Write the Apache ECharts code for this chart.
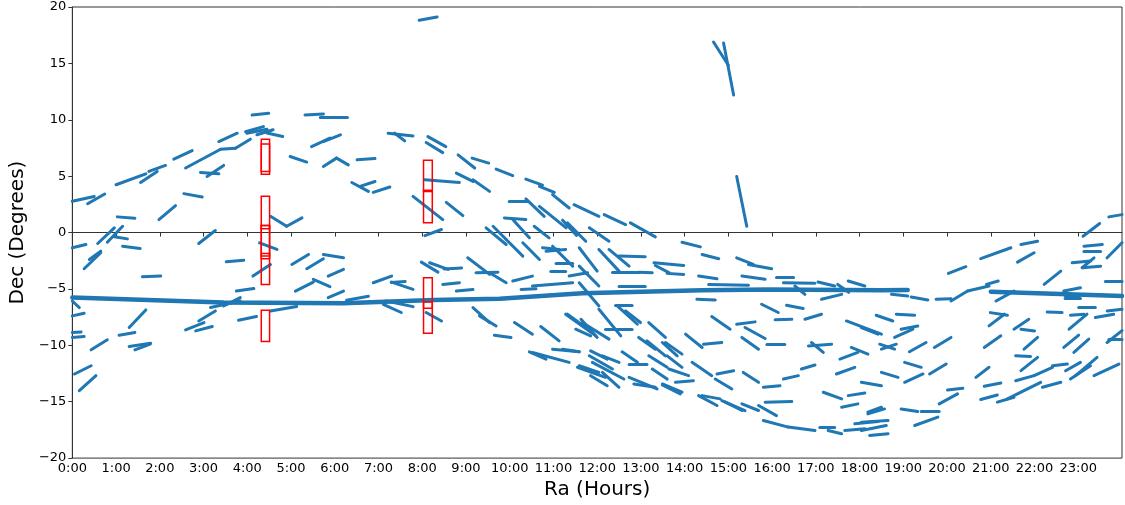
<!DOCTYPE html>
<html>
<head>
<meta charset="utf-8">
<script src="https://cdn.jsdelivr.net/npm/echarts@6/dist/echarts.min.js"></script>
<style>
html,body{margin:0;padding:0;background:#fff;}
#chart{width:1125px;height:505px;}
</style>
</head>
<body>
<div id="chart"></div>
<script>
// Tick labels
var raTickLabels = ['0:00','1:00','2:00','3:00','4:00','5:00','6:00','7:00','8:00','9:00','10:00','11:00','12:00','13:00','14:00','15:00','16:00','17:00','18:00','19:00','20:00','21:00','22:00','23:00'];
var decTicks = [-20,-15,-10,-5,0,5,10,15,20];

// Track segments: [ra1 (h), dec1 (deg), ra2 (h), dec2 (deg)]
var tracksNorthWest = [
[0,2.77,0.5,3.2],[0.35,2.56,0.74,3.42],[1.0,4.24,1.68,5.21],[1.56,4.44,1.94,5.42],[1.75,5.42,2.13,5.95],
[2.32,6.51,2.74,7.27],[2.59,5.72,3.39,7.39],[3.39,7.39,3.73,7.48],[3.73,7.48,4.07,8.28],[3.35,8.07,3.77,8.81],
[3.96,8.95,4.37,9.39],[3.99,8.81,4.45,9.16],[4.11,10.42,4.49,10.57],[4.45,8.82,4.81,8.52],[4.22,8.67,4.59,9.12],
[2.93,5.33,3.35,5.21],[3.08,4.97,3.46,5.95],[2.55,3.45,2.97,3.15],[1.98,1.15,2.36,2.39],[1.03,1.39,1.43,1.26],
[0.58,-0.97,0.96,0.42],[0.8,-0.86,1.15,0.56],[0.96,-0.38,1.26,-0.56],[1.15,-1.21,1.55,-1.41],[0,-1.35,0.31,-1.06],
[0.39,-2.39,0.65,-1.65],[2.89,-0.97,3.27,0.18],[4.53,1.44,4.9,0.56],[4.9,0.56,5.25,1.3],[4.98,6.74,5.36,6.25],
[5.32,10.42,5.74,10.51],[5.67,10.22,6.29,10.19],[5.47,7.62,5.89,8.37],[5.74,8.07,6.13,8.66],[5.74,5.86,6.04,6.6],
[6.04,6.6,6.31,6.0]
];
var tracksNorthCentral = [
[7.93,18.82,8.34,19.11],[6.51,6.45,6.92,6.56],[7.22,8.81,7.79,8.57],[7.37,8.81,7.6,8.13],[8.13,8.51,8.54,7.62],
[8.09,7.98,8.47,7.09],[6.39,4.44,6.77,3.65],[6.58,4.09,6.92,4.53],[6.88,3.56,7.26,4.04],[8.82,6.89,9.2,5.72],
[9.14,6.6,9.52,6.16],[9.69,5.63,10.07,5.04],[10.37,4.74,10.75,4.2],[10.68,4.09,11.02,3.56],[10.98,3.36,11.36,2.18],
[11.47,2.47,12.04,1.44],[12.16,1.59,12.65,0.71],[12.76,0.86,13.33,-0.38],[9.99,2.77,10.41,2.77],[10.37,2.98,10.79,1.44],
[10.68,2.32,11.29,0.42],[9.88,1.3,10.37,1.15],[10.07,1.15,10.45,-0.47],[10.56,0.56,10.9,-0.47],[11.21,1.1,11.53,-0.25],
[11.32,0.86,11.74,-0.77],[11.82,0.42,12.27,-0.77],[9.46,0.42,9.92,-1.06],[9.62,0.56,9.92,-0.62],[9.92,-0.62,10.3,-2.09],
[10.3,-0.91,10.68,-2.39],[10.75,-1.35,11.13,-1.5],[10.98,-1.21,11.44,-2.98],[11.06,-2.68,11.44,-2.68],[11.59,-1.35,12.0,-3.42],
[12.04,-1.5,12.5,-3.42],[12.27,-1.5,12.73,-2.98],[12.5,-2.09,13.1,-2.15],[12.35,-3.56,12.95,-3.56],[11.36,-3.86,11.78,-3.56],
[11.59,-2.98,12.04,-4.74],[12.5,-4.74,13.1,-4.74],[7.79,3.21,8.47,1.15],[8.55,2.68,8.93,1.5],[8.06,4.68,8.85,4.44],
[8.78,5.27,9.16,4.53],[9.16,4.68,9.54,3.65],[8.06,-0.27,8.44,0.27],[14.66,16.9,15.0,14.84],[14.89,16.81,15.12,12.19],
[15.19,4.97,15.42,0.56],[23.7,1.39,24,1.59],[23.11,-0.33,23.49,0.8]
];
var tracksEquatorWest = [
[0.27,-3.21,0.65,-1.79],[1.6,-3.92,2.02,-3.86],[3.52,-2.59,3.92,-2.45],[4.28,-0.91,4.68,-1.5],[4.13,-3.86,4.53,-2.83],
[3.75,-5.19,4.15,-4.97],[5.02,-2.83,5.4,-1.94],[5.36,-3.21,5.74,-2.32],[5.74,-1.94,6.2,-2.24],[5.85,-3.86,6.2,-3.27],
[5.1,-5.19,5.51,-4.39],[5.51,-4.15,5.89,-4.8],[5.85,-5.77,6.2,-5.19],[3.16,-6.65,3.84,-6.07],[3.46,-6.51,3.84,-5.77],
[2.89,-7.84,3.27,-6.95],[2.59,-8.63,3.01,-7.98],[2.82,-8.72,3.2,-8.33],[3.8,-7.77,4.21,-7.45],[4.53,-6.95,5.13,-6.56],
[1.3,-8.42,1.68,-6.86],[1.07,-9.1,1.43,-8.86],[1.3,-10.1,1.79,-9.81],[1.43,-10.4,1.78,-9.9],[0.43,-10.4,0.8,-9.51],
[0,-8.86,0.2,-8.81],[0,-9.3,0.27,-9.21],[0,-7.39,0.27,-7.16],[0.05,-12.54,0.43,-11.81],[0.16,-14.02,0.54,-12.69],
[0,-6.07,0.16,-6.65],
[6.88,-4.45,7.3,-3.86],[7.29,-4.42,7.61,-4.33],[7.3,-4.39,7.79,-5.04],[7.98,-2.62,8.36,-3.51],[8.17,-2.68,8.59,-3.27],
[8.5,-3.23,8.9,-3.14],[9.04,-2.24,9.54,-3.71],[9.54,-3.56,9.92,-4.45],[9.23,-3.56,9.73,-3.51],[10.07,-4.3,10.52,-3.86],
[10.83,-1.65,11.28,-1.5],[10.94,-3.42,11.28,-3.42],[10.26,-5.04,10.6,-4.98],[10.52,-4.74,11.44,-4.45],[8.78,-5.19,9.16,-5.04],
[8.47,-4.6,8.85,-4.45],[7.11,-6.36,7.52,-7.09],[7.18,-6.07,7.79,-6.57],[6.27,-6.0,6.77,-5.64],[8.09,-7.09,8.44,-7.84],
[9.16,-6.65,9.54,-7.98],[9.31,-7.39,9.69,-8.28],[9.65,-9.1,10.03,-9.3],[10.11,-7.98,10.52,-9.01],[10.71,-8.33,11.13,-9.6],
[10.45,-10.57,10.83,-11.22],[10.52,-10.63,11.36,-11.51],[10.98,-10.34,11.59,-10.57],[11.59,-11.81,12.04,-12.4],[11.82,-10.93,12.35,-12.1],
[11.28,-7.24,11.97,-9.16],[11.59,-4.45,12.04,-6.51],[11.66,-7.98,12.27,-9.45],[11.21,-10.34,11.59,-10.57]
];
var tracksSouthCentral = [
[13.94,-0.86,14.36,-1.27],[14.4,-1.94,14.78,-2.32],[15.19,-2.24,15.57,-2.83],[15.46,-2.83,15.99,-3.21],[13.3,-2.68,13.98,-2.92],
[13.33,-2.92,13.64,-3.56],[12.95,-3.51,13.26,-3.56],[13.6,-3.62,13.98,-3.71],[14.32,-3.86,14.74,-4.09],[15.31,-3.86,15.84,-4.15],
[16.1,-4.0,16.49,-4.0],[14.55,-4.6,15.46,-4.68],[16.26,-4.45,16.98,-4.5],[17.05,-4.39,17.43,-4.74],[17.74,-4.3,18.12,-4.74],
[17.13,-5.92,17.59,-5.48],[14.28,-5.92,14.7,-5.98],[15.76,-6.36,16.14,-7.09],[16.33,-6.45,16.71,-6.74],[16.07,-7.74,16.45,-7.69],
[16.75,-7.69,17.13,-7.24],[15.19,-8.13,15.61,-7.92],[14.62,-7.45,15.04,-8.57],[15.38,-8.42,15.84,-9.39],[15.31,-9.3,15.69,-10.34],
[15.88,-9.9,16.29,-9.9],[14.43,-9.9,14.85,-9.75],[14.02,-9.01,14.4,-10.19],[13.18,-7.98,13.56,-9.3],[13.56,-9.75,13.94,-10.78],
[17.7,-7.84,18.5,-9.01],[16.83,-10.05,17.36,-9.9],[16.9,-9.75,17.17,-10.63],[17.55,-11.22,17.96,-10.63],[17.81,-10.19,18.19,-10.78],
[16.67,-12.1,16.98,-11.75],[16.26,-12.99,16.6,-12.69],[17.47,-12.54,17.89,-11.95],[18.04,-13.28,18.5,-13.58],[15.8,-13.72,16.18,-13.58],
[15.34,-12.4,15.69,-13.28],[14.74,-12.54,15.12,-12.25],[14.17,-11.51,14.62,-12.69],[13.64,-12.1,14.09,-12.69],[13.49,-13.43,13.94,-14.16],
[12.84,-13.43,13.33,-13.72],[14.4,-14.46,14.81,-14.75],[14.85,-14.9,15.38,-15.79],[15.31,-15.19,15.69,-15.78],[15.69,-15.34,16.1,-16.23],
[15.84,-15.04,16.45,-14.99],[15.8,-16.67,16.37,-17.25],[16.37,-17.25,16.98,-17.55],[17.09,-17.25,17.43,-17.25],[17.28,-17.55,17.59,-17.84],
[17.66,-17.55,18.12,-17.4],[17.89,-16.96,18.42,-16.76],[17.17,-14.16,17.59,-14.75],[17.74,-14.46,18.12,-14.22],[17.59,-15.49,17.96,-15.19],
[18.19,-15.93,18.5,-15.49],[12.12,-12.4,12.5,-13.72],[12.12,-10.93,12.5,-11.51],
[11.32,-7.24,11.74,-8.42],[11.63,-7.69,12.0,-9.3],[11.51,-8.57,11.85,-9.16],[12.04,-6.8,12.54,-9.16],[12.42,-6.45,12.8,-6.45],
[12.46,-6.51,12.92,-8.13],[12.65,-6.95,12.99,-7.98],[12.19,-8.57,12.8,-8.57],[12.95,-9.3,13.33,-10.34],[13.14,-9.6,13.56,-10.93],
[13.49,-9.75,13.83,-10.93],[12.57,-10.57,12.92,-11.51],[12.73,-11.66,13.14,-11.66],[13.18,-10.93,13.6,-11.95],[13.26,-12.1,13.6,-12.99],
[13.6,-10.93,13.94,-11.95],[11.85,-10.49,12.23,-11.22],[11.55,-11.95,12.19,-12.84],[11.89,-11.51,12.61,-12.99],[11.85,-12.69,12.23,-13.58],
[12.73,-12.84,13.37,-13.87],[13.49,-13.51,13.9,-14.31],[13.79,-13.28,14.2,-13.14],[14.32,-14.46,14.74,-15.34],[14.7,-12.99,15.08,-13.87],
[14.93,-15.04,15.31,-15.78],[16.52,-4.74,16.75,-5.48],[17.5,-4.6,17.75,-5.3]
];
var tracksEast = [
[23.13,-1.21,23.55,-1.06],[23.13,-1.65,23.51,-1.65],[23.66,-2.24,24,-0.9],[22.86,-2.68,23.28,-2.53],[23.09,-3.12,23.51,-2.98],
[23.09,-3.12,23.36,-2.24],[21.69,-1.06,22.07,-0.77],[21.61,-2.62,21.99,-1.79],[20.77,-2.32,21.46,-1.35],[20.03,-3.62,20.43,-3.03],
[23.62,-4.3,24,-4.3],[22.22,-4.6,22.6,-3.42],[22.67,-5.19,23.05,-4.89],[20.9,-4.6,21.17,-4.3],[20.47,-5.19,20.96,-4.74],
[21.12,-6.07,21.53,-5.19],[20.09,-6.07,20.47,-5.19],[19.75,-5.92,20.09,-5.86],[19.18,-5.72,19.56,-5.98],[18.73,-5.48,19.1,-5.63],
[23.01,-6.65,23.39,-6.65],[23.39,-7.54,23.81,-7.24],[23.66,-6.95,24,-6.8],[22.29,-7.04,22.63,-7.1],[22.82,-7.33,23.13,-7.24],
[22.79,-8.57,23.2,-7.24],[20.99,-7.1,21.38,-7.33],[20.96,-8.28,21.31,-7.24],[21.53,-8.57,21.87,-7.69],[21.69,-8.57,22.0,-8.72],
[21.76,-10.34,22.07,-9.3],[22.67,-10.19,23.01,-9.1],[22.9,-10.63,23.24,-9.45],[23.66,-9.75,24,-8.7],[23.7,-9.45,24,-9.45],
[20.85,-10.19,21.23,-9.16],[19.71,-10.19,20.09,-9.3],[19.14,-10.57,19.52,-9.75],[18.8,-9.3,19.22,-8.57],[18.95,-8.57,19.33,-8.28],
[18.84,-7.24,19.26,-7.33],[18.38,-7.33,18.76,-7.84],[18.04,-8.42,18.42,-9.01],[18.46,-9.9,18.8,-10.34],[18.5,-10.34,18.84,-9.9],
[21.57,-10.93,21.91,-10.98],[21.69,-12.25,22.07,-11.07],[22.41,-11.81,22.75,-11.66],[22.71,-12.25,23.05,-11.51],[22.82,-12.99,23.28,-11.81],
[22.94,-12.69,23.43,-11.07],[23.36,-12.69,23.93,-11.66],[21.99,-12.69,22.41,-11.95],[21.57,-13.14,21.99,-12.69],[22.18,-13.72,22.6,-13.28],
[21.15,-15.04,21.53,-14.6],[21.38,-14.75,22.14,-13.28],[20.77,-14.81,21.15,-14.4],[20.85,-13.63,21.23,-13.34],[20.66,-12.84,20.96,-11.95],
[19.6,-12.54,19.98,-11.66],[19.03,-13.28,19.45,-12.54],[19.03,-11.51,19.41,-11.95],[18.5,-12.4,18.88,-12.84],[19.82,-15.19,20.24,-14.31],
[20.01,-13.96,20.36,-13.81],[18.95,-15.64,19.33,-15.87],[19.41,-15.87,19.82,-15.87],[19.26,-17.11,19.79,-16.37],[18.19,-16.08,18.57,-15.64],
[18.04,-16.81,18.65,-16.67],[18.04,-17.55,18.61,-17.11],[18.23,-17.99,18.65,-17.84],[22.7,-5.85,23.05,-5.85],[22.7,-5.6,23.0,-5.65]
];
// Long dense track near Dec -6 (two pieces)
var mainTrackA = [[0,-5.77],[3.46,-6.21],[6.2,-6.27],[8.25,-5.98],[9.77,-5.86],[11.66,-5.39],[14.4,-5.12],[15.92,-5.04],[18.5,-5.12],[19.1,-5.1]];
var mainTrackB = [[21.0,-5.24],[24,-5.63]];
// Field boxes: [ra1, ra2, decTop, decBottom]
var fieldBoxes = [
[4.32,4.51,8.28,5.42],[4.32,4.51,7.86,5.18],
[4.32,4.51,3.21,0.33],[4.32,4.51,0.62,-2.09],[4.32,4.51,0.62,-2.32],[4.32,4.51,-1.86,-4.6],
[4.32,4.51,-6.89,-9.66],
[8.03,8.23,6.42,3.65],[8.03,8.23,3.74,0.86],
[8.03,8.23,-4.0,-6.72],[8.03,8.23,-6.16,-8.93]
];

var allTracks = [].concat(tracksNorthWest, tracksNorthCentral, tracksEquatorWest, tracksSouthCentral, tracksEast);
var BLUE = '#1f77b4';
var FONT = 'DejaVu Sans';

var chart = echarts.init(document.getElementById('chart'), null, {renderer:'canvas'});
chart.setOption({
  animation: false,
  backgroundColor: '#fff',
  grid: {left: 68, right: 3, top: 7, bottom: 45, show: true, borderColor: '#333', borderWidth: 1, backgroundColor: 'transparent'},
  xAxis: {
    type: 'value', min: 0, max: 24, interval: 1,
    name: 'Ra (Hours)', nameLocation: 'middle', nameGap: 21,
    nameTextStyle: {fontFamily: FONT, fontSize: 20, color: '#000'},
    axisLine: {show: true, lineStyle: {color: '#333', width: 1}},
    axisTick: {show: true, inside: false, length: 4, lineStyle: {color: '#333'}},
    axisLabel: {fontFamily: FONT, fontSize: 13, color: '#000', margin: 4, showMaxLabel: false,
      formatter: function (v) { return raTickLabels[Math.round(v)] || ''; }},
    splitLine: {show: false}
  },
  yAxis: {
    type: 'value', min: decTicks[0], max: decTicks[decTicks.length - 1], interval: 5,
    name: 'Dec (Degrees)', nameLocation: 'middle', nameGap: 36, nameRotate: 90,
    nameTextStyle: {fontFamily: FONT, fontSize: 20, color: '#000'},
    axisLine: {show: true, lineStyle: {color: '#333', width: 1}},
    axisTick: {show: true, inside: false, length: 4, lineStyle: {color: '#333'}},
    axisLabel: {fontFamily: FONT, fontSize: 13, color: '#000', margin: 6,
      formatter: function (v) { return v < 0 ? '\u2212' + (-v) : String(v); }},
    splitLine: {show: false}
  },
  series: [
    {type: 'line', data: mainTrackA, showSymbol: false, symbol: 'none', silent: true,
     lineStyle: {color: BLUE, width: 4.5, cap: 'round'}, z: 2},
    {type: 'line', data: mainTrackB, showSymbol: false, symbol: 'none', silent: true,
     lineStyle: {color: BLUE, width: 4.5, cap: 'round'}, z: 2},
    {type: 'lines', coordinateSystem: 'cartesian2d', polyline: false, silent: true,
     data: allTracks.map(function (s) { return {coords: [[s[0], s[1]], [s[2], s[3]]]}; }),
     lineStyle: {color: BLUE, width: 3, opacity: 1, curveness: 0, cap: 'round'}, z: 3},
    {type: 'custom', silent: true, z: 5, clip: true,
     data: fieldBoxes,
     encode: {x: [0, 1], y: [2, 3]},
     renderItem: function (params, api) {
       var p1 = api.coord([api.value(0), api.value(2)]);
       var p2 = api.coord([api.value(1), api.value(3)]);
       return {type: 'rect', shape: {x: p1[0], y: p1[1], width: p2[0] - p1[0], height: p2[1] - p1[1]},
               style: {fill: 'none', stroke: '#ff0000', lineWidth: 1.5}};
     }}
  ]
});
</script>
</body>
</html>
